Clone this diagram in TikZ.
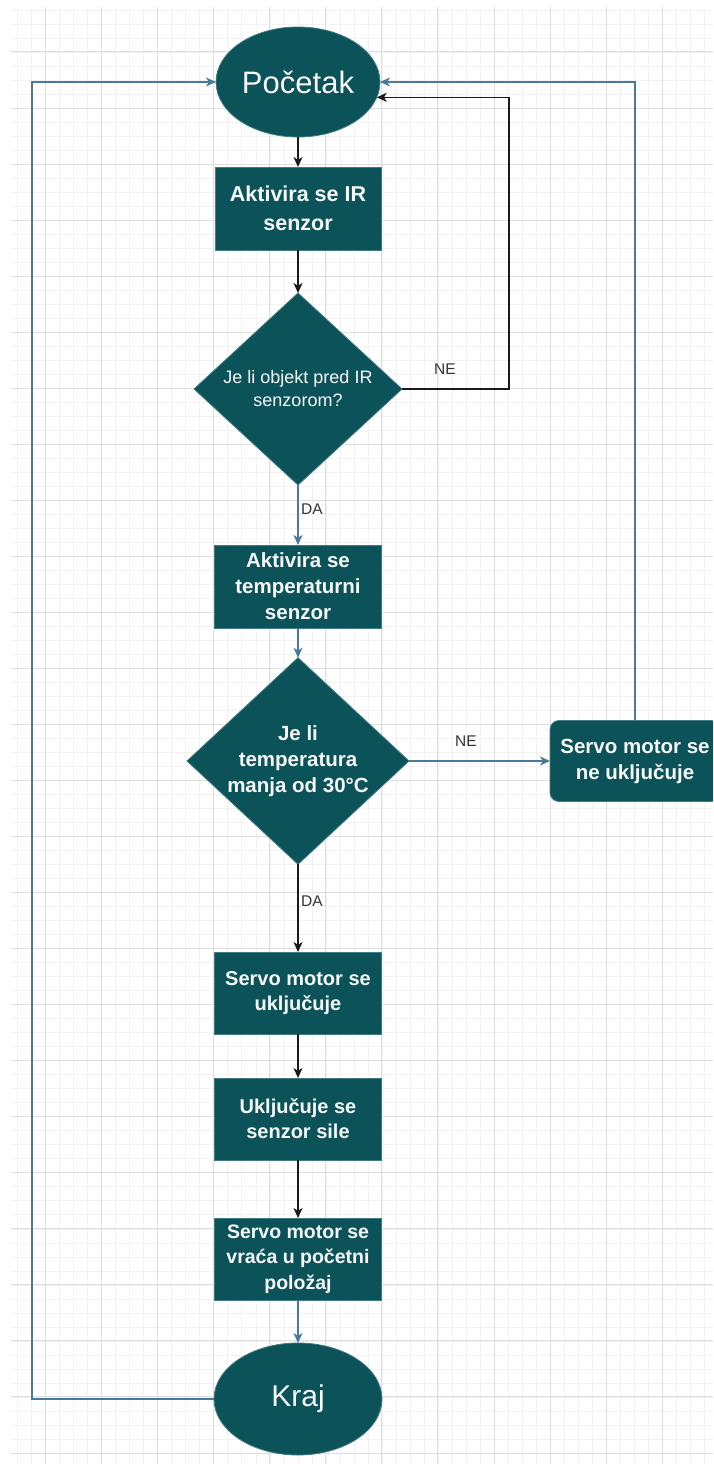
\documentclass[tikz,border=0pt]{standalone}
\usepackage{fontspec}
\setmainfont{Liberation Sans}
\usetikzlibrary{shapes.geometric,arrows.meta}
\definecolor{teal}{HTML}{0C5359}
\definecolor{tealedge}{HTML}{3F7C83}
\definecolor{bluegray}{HTML}{4A7A98}
\definecolor{darkline}{HTML}{1A1A1A}
\definecolor{gridmajor}{HTML}{DEDEDE}
\definecolor{gridminor}{HTML}{F2F2F2}
\definecolor{lbltext}{HTML}{333333}
\definecolor{nodetext}{HTML}{F7F7F7}
\tikzset{
  base/.style={fill=teal, draw=tealedge, line width=0.8pt, text=nodetext, align=center, inner sep=0pt, outer sep=0pt},
  term/.style={base, ellipse, font=\fontsize{30}{34}\selectfont},
  proc/.style={base, rectangle, minimum width=167pt, minimum height=82pt, font=\bfseries\fontsize{20}{25}\selectfont},
  rproc/.style={proc, rounded corners=9pt},
  dec/.style={base, diamond, inner sep=-1.5pt},
  arr/.style={-{Stealth[length=10pt,width=9pt,inset=2.8pt]}, line width=1.25pt},
  blk/.style={arr, draw=darkline},
  blu/.style={arr, draw=bluegray},
  lbl/.style={text=lbltext, font=\fontsize{15.5}{18}\selectfont, inner sep=0pt}
}
\begin{document}
\begin{tikzpicture}[x=1pt,y=-1pt]
\useasboundingbox (0,0) rectangle (713,1474);
\clip (0,0) rectangle (713,1474);
\fill[white] (0,0) rectangle (713,1474);
% grid
\begin{scope}
\clip (11,8) rectangle (713,1463);
\foreach \i in {-3,...,48} {
  \draw[gridminor, line width=0.7pt] (45.7+14.01*\i,0) -- (45.7+14.01*\i,1474);
}
\foreach \j in {-4,...,101} {
  \draw[gridminor, line width=0.7pt] (0,52+14.01*\j) -- (713,52+14.01*\j);
}
\foreach \i in {-1,...,12} {
  \draw[gridmajor, line width=1pt] (45.7+56.04*\i,0) -- (45.7+56.04*\i,1474);
}
\foreach \j in {-1,...,26} {
  \draw[gridmajor, line width=1pt] (0,52+56.04*\j) -- (713,52+56.04*\j);
}
\end{scope}

% nodes
\node[term, minimum width=164pt, minimum height=110pt, font=\fontsize{31}{34}\selectfont] (p) at (298,82) {Početak};
\node[proc, minimum width=166pt, minimum height=83pt, font=\bfseries\fontsize{21.5}{29}\selectfont] (b1) at (298,208.5) {Aktivira se IR\\senzor};
\node[dec, minimum width=208pt, minimum height=192pt, font=\fontsize{18}{23}\selectfont] (d1) at (298,389) {Je li objekt pred IR\\senzorom?};
\node[proc, minimum height=83pt, font=\bfseries\fontsize{20.5}{26}\selectfont] (b2) at (298,586.5) {Aktivira se\\temperaturni\\senzor};
\node[dec, minimum width=222pt, minimum height=206pt, font=\bfseries\fontsize{20.5}{26}\selectfont] (d2) at (298,761) {Je li\\temperatura\\manja od 30°C};
\node[rproc, minimum width=170pt, minimum height=81pt, font=\bfseries\fontsize{20.5}{26}\selectfont] (r) at (635,761) {Servo motor se\\ne uključuje};
\node[proc] (b3) at (298,993) {Servo motor se\\uključuje};
\node[proc] (b4) at (298,1119) {Uključuje se\\senzor sile};
\node[proc, font=\bfseries\fontsize{19.5}{25.5}\selectfont] (b5) at (298,1259) {Servo motor se\\vraća u početni\\položaj};
\node[term, minimum width=168pt, minimum height=112pt] (k) at (298,1399) {Kraj};

% helper coordinates
\coordinate (ne1) at (509,389);
\coordinate (lft) at (32,1399);

% connectors
\draw[blk] (p) -- (b1);
\draw[blk] (b1) -- (d1);
\draw[blk] (d1.east) -- (ne1) |- (p.-11);
\draw[blu] (d1) -- (b2);
\draw[blu] (b2) -- (d2);
\draw[blu] (d2.east) -- (r.west);
\draw[blu] (r.north) |- (p.east);
\draw[blk] (d2) -- (b3);
\draw[blk] (b3) -- (b4);
\draw[blk] (b4) -- (b5);
\draw[blu] (b5) -- (k);
\draw[blu] (k.west) -- (lft) |- (p.west);

% labels
\node[lbl] (lne1) at (445,369) {NE};
\node[lbl] (lda1) at (312,509) {DA};
\node[lbl] (lne2) at (466,741) {NE};
\node[lbl] (lda2) at (312,901) {DA};
\end{tikzpicture}
\end{document}
